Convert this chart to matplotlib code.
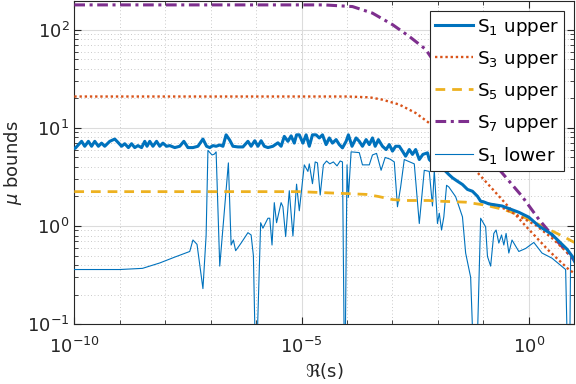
import numpy as np
import matplotlib
matplotlib.use("Agg")
import matplotlib.pyplot as plt
import matplotlib.ticker as ticker

# x positions stored as log10(Re(s))
s1_up_lx = [-10.0, -9.98, -9.84, -9.77, -9.69, -9.62, -9.55, -9.47, -9.40, -9.33, -9.22, -9.11,
            -9.03, -8.96, -8.89, -8.81, -8.74, -8.67, -8.60, -8.52, -8.45, -8.40, -8.34, -8.27,
            -8.19, -8.12, -8.05, -7.97, -7.90, -7.79, -7.68, -7.59, -7.50, -7.39, -7.28, -7.17,
            -7.09, -7.02, -6.95, -6.88, -6.80, -6.73, -6.66, -6.58, -6.51, -6.40, -6.29, -6.18,
            -6.11, -6.03, -5.96, -5.89, -5.82, -5.74, -5.63, -5.52, -5.45, -5.38, -5.30, -5.23,
            -5.16, -5.11, -5.05, -4.97, -4.90, -4.83, -4.76, -4.68, -4.61, -4.54, -4.46, -4.39,
            -4.32, -4.24, -4.17, -4.10, -4.02, -3.97, -3.89, -3.80, -3.73, -3.66, -3.58, -3.51,
            -3.44, -3.38, -3.31, -3.22, -3.14, -3.07, -3.00, -2.93, -2.85, -2.78, -2.71, -2.63,
            -2.56, -2.49, -2.41, -2.33, -2.23, -2.19, -2.08, -1.97, -1.87, -1.76, -1.68, -1.57,
            -1.46, -1.35, -1.24, -1.13, -1.06, -0.99, -0.88, -0.59, -0.22, 0.00, 0.22, 0.51,
            0.66, 0.84, 1.00]
s1_up = [6.2, 6.2, 7.3, 6.5, 7.3, 6.5, 7.3, 6.5, 7.0, 6.5, 7.3, 7.7,
         7.05, 6.5, 6.9, 6.3, 6.9, 6.3, 6.6, 6.3, 7.3, 6.5, 7.3, 6.5,
         7.3, 6.5, 7.0, 6.5, 6.6, 6.3, 6.5, 7.3, 6.3, 6.3, 6.5, 7.7,
         6.5, 6.3, 6.6, 6.5, 6.7, 6.5, 8.5, 7.5, 6.5, 6.4, 6.4, 7.3,
         6.5, 7.4, 6.5, 7.4, 6.5, 6.3, 6.5, 7.05, 6.5, 8.2, 7.3, 8.3,
         7.0, 8.5, 8.5, 7.0, 8.5, 6.5, 8.5, 8.5, 7.9, 8.5, 6.76, 7.9,
         7.0, 7.6, 6.76, 6.26, 7.3, 8.5, 6.5, 7.9, 7.3, 6.5, 7.6, 6.76,
         7.9, 6.5, 7.6, 6.5, 6.02, 6.76, 5.8, 6.5, 6.5, 5.8, 5.15, 6.02,
         5.37, 6.02, 4.76, 5.37, 5.57, 4.76, 4.24, 3.92, 3.77, 3.35, 3.10, 2.86,
         2.65, 2.36, 2.26, 2.01, 1.79, 1.76, 1.68, 1.6, 1.38, 1.23, 1.0, 0.82,
         0.7, 0.58, 0.46]

s3_lx = [-10.0, -4.0, -3.5, -3.22, -2.85, -2.49, -2.19, -1.9, -1.5, -1.17, -0.59, -0.07, 0.44, 0.88, 1.0]
s3_up = [20.9, 20.9, 20.5, 19.4, 17.3, 14.2, 11.2, 8.5, 5.5, 3.68, 1.86, 1.0, 0.56, 0.36, 0.33]

s3b_lx = [-0.9, -0.66, -0.2, 0.15, 0.5, 1.0]
s3b_up = [1.7, 1.6, 1.25, 1.02, 0.76, 0.46]

s5_lx = [-10.0, -5.5, -5.05, -3.58, -3.31, -3.0, -2.71, -2.2, -1.97, -1.39, -0.95, -0.55,
         -0.22, 0.07, 0.51, 0.81, 1.0]
s5_up = [2.24, 2.24, 2.24, 2.1, 2.0, 1.86, 1.82, 1.82, 1.79, 1.75, 1.63, 1.47,
         1.31, 1.12, 0.89, 0.76, 0.68]

s7_lx = [-10.0, -4.5, -3.88, -3.44, -3.0, -2.63, -2.27, -1.9, -1.5, -1.1, -0.62, -0.15, 0.22, 0.59, 1.0]
s7_up = [179.5, 179.5, 172.6, 148.0, 113.0, 85.6, 63.3, 35.5, 17.8, 8.3, 3.62, 2.01, 1.17, 0.73, 0.45]

s1_lo_lx = [-10.0, -9.0, -8.5, -8.12, -7.8, -7.46, -7.39, -7.30, -7.17, -7.10, -7.06, -6.97,
            -6.92, -6.88, -6.80, -6.61, -6.55, -6.50, -6.45, -6.33, -6.18, -6.11, -6.06, -6.02,
            -5.98, -5.90, -5.85, -5.74, -5.70, -5.65, -5.60, -5.55, -5.45, -5.41, -5.35, -5.27,
            -5.19, -5.11, -5.05, -4.94, -4.86, -4.83, -4.76, -4.70, -4.65, -4.59, -4.52, -4.45,
            -4.38, -4.30, -4.22, -4.15, -4.10, -4.06, -4.04, -4.00, -3.97, -3.91, -3.73, -3.66,
            -3.51, -3.44, -3.35, -3.25, -3.16, -3.05, -2.96, -2.89, -2.82, -2.74, -2.52, -2.41,
            -2.30, -2.19, -2.12, -2.08, -2.01, -1.97, -1.92, -1.87, -1.81, -1.76, -1.61, -1.46,
            -1.39, -1.28, -1.22, -1.14, -1.06, -0.95, -0.91, -0.84, -0.77, -0.72, -0.66, -0.60,
            -0.55, -0.50, -0.44, -0.37, -0.22, -0.07, 0.11, 0.29, 0.51, 0.81, 0.85, 0.90,
            0.92, 1.00]
s1_lo = [0.36, 0.36, 0.37, 0.42, 0.48, 0.55, 0.72, 0.65, 0.23, 0.8, 5.9, 5.3,
         5.4, 5.7, 0.39, 4.4, 0.64, 0.72, 0.56, 0.67, 0.855, 0.81, 0.5, 0.06,
         0.06, 1.08, 0.95, 1.2, 1.2, 0.64, 1.73, 1.08, 1.73, 1.57, 0.78, 2.29,
         0.79, 2.67, 1.43, 4.2, 3.6, 4.3, 2.7, 4.5, 4.4, 2.07, 4.2, 4.6,
         4.3, 4.5, 4.1, 4.6, 4.5, 0.05, 0.05, 4.2, 1.96, 5.7, 5.6, 4.2,
         4.2, 5.3, 5.5, 3.7, 5.0, 4.8, 4.5, 1.57, 2.5, 4.76, 4.3, 1.06,
         3.7, 3.6, 1.6, 3.7, 1.06, 1.35, 0.91, 1.24, 2.6, 2.5, 1.99, 1.24,
         0.53, 0.3, 0.05, 0.05, 1.2, 0.98, 0.49, 0.39, 0.84, 0.91, 0.67, 0.81,
         0.64, 0.84, 0.53, 0.72, 0.55, 0.59, 0.68, 0.53, 0.47, 0.36, 0.05, 0.05,
         0.49, 0.42]

blue = "#0072BD"
orange = "#D95319"
yellow = "#EDB120"
purple = "#7E2F8E"

plt.rcParams["font.family"] = "DejaVu Sans"
plt.rcParams["mathtext.fontset"] = "dejavusans"

fig = plt.figure(figsize=(5.76, 3.84), dpi=100)
ax = fig.add_axes([0.129, 0.156, 0.868, 0.841])

ax.plot(10 ** np.array(s1_up_lx), s1_up, color=blue, lw=2.2, label=r"S$_1$ upper", zorder=5)
ax.plot(10 ** np.array(s3_lx), s3_up, color=orange, lw=1.7, ls=(0, (1, 1.2)), label=r"S$_3$ upper", zorder=4)
ax.plot(10 ** np.array(s5_lx), s5_up, color=yellow, lw=2.0, ls=(0, (3.5, 2.5)), label=r"S$_5$ upper", zorder=4)
ax.plot(10 ** np.array(s7_lx), s7_up, color=purple, lw=2.2, ls=(0, (3.5, 1.5, 1, 1.5)), label=r"S$_7$ upper", zorder=4)
ax.plot(10 ** np.array(s1_lo_lx), s1_lo, color=blue, lw=0.8, label=r"S$_1$ lower", zorder=3)
ax.plot(10 ** np.array(s3b_lx), s3b_up, color=orange, lw=1.7, ls=(0, (1, 1.2)), zorder=4)

ax.set_xscale("log")
ax.set_yscale("log")
ax.set_xlim(1e-10, 10)
ax.set_ylim(0.1, 196)

ax.xaxis.set_major_locator(ticker.FixedLocator([1e-10, 1e-5, 1e0]))
ax.xaxis.set_minor_locator(ticker.LogLocator(base=10, subs=(1.0,), numticks=30))
ax.yaxis.set_major_locator(ticker.LogLocator(base=10, numticks=10))
ax.yaxis.set_minor_locator(ticker.LogLocator(base=10, subs=np.arange(2, 10), numticks=20))
ax.yaxis.set_minor_formatter(ticker.NullFormatter())
ax.xaxis.set_minor_formatter(ticker.NullFormatter())

ax.grid(True, which="major", color="#dcdcdc", lw=0.8, ls="-")
ax.grid(True, which="minor", color="#b8b8b8", lw=0.6, ls=(0, (1, 3)))
ax.set_axisbelow(True)

ax.tick_params(which="both", direction="in", top=True, right=True, labelsize=13, colors="#262626")
ax.tick_params(which="major", length=5, width=0.8)
ax.tick_params(which="minor", length=3, width=0.6)
ax.tick_params(axis="x", which="major", pad=9)
for sp in ax.spines.values():
    sp.set_color("#262626")
    sp.set_linewidth(0.8)

ax.set_xlabel(r"$\Re$(s)", fontsize=13, color="#262626", labelpad=3)
ax.set_ylabel(r"$\mu$ bounds", fontsize=13, color="#262626", labelpad=2)

leg = ax.legend(loc="upper right", fontsize=13.2, handlelength=2.05, handletextpad=0.2,
                labelspacing=0.6, borderpad=0.3, borderaxespad=0.55, fancybox=False,
                framealpha=1, edgecolor="#262626")
leg.get_frame().set_linewidth(0.8)

plt.savefig("out.png", dpi=100)
plt.close()
